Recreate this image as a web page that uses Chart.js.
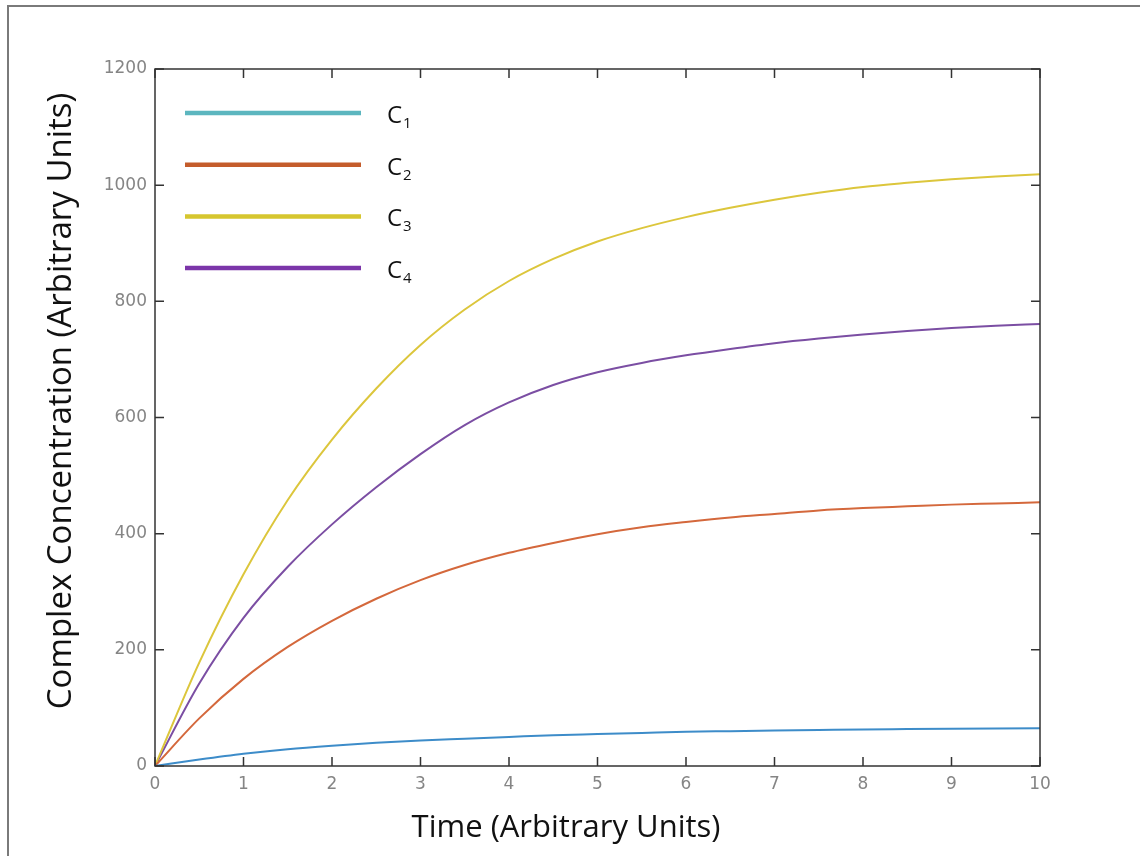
<!DOCTYPE html>
<html>
<head>
<meta charset="utf-8">
<script src="https://cdn.jsdelivr.net/npm/chart.js@4.4.1/dist/chart.umd.min.js"></script>
<style>
  html, body { margin: 0; padding: 0; background: #fff; overflow: hidden; }
  #frame { position: absolute; left: 7px; top: 5px; width: 1160px; height: 880px;
           border: 2px solid #7a7a7a; box-sizing: border-box; }
  #wrap { position: absolute; left: 0; top: 0; width: 1140px; height: 856px; }
</style>
</head>
<body>
<div id="frame"></div>
<div id="wrap"><canvas id="grafica"></canvas></div>
<script>
// time points (arbitrary units)
var tiempos = [0, 0.5, 1, 1.5, 2, 2.5, 3, 3.5, 4, 4.5, 5, 5.5, 6, 6.5, 7, 7.5, 8, 8.5, 9, 9.5, 10];

// complex concentrations
var c1 = [0, 11, 21, 29, 35, 40, 44, 47, 50, 53, 55, 57, 59, 60, 61, 62, 63, 63.5, 64, 64.5, 65];
var c2 = [0, 82, 150, 205, 250, 288, 320, 346, 367, 384, 399, 411, 420, 428, 434, 440, 444, 447, 450, 452, 454];
var c3 = [0, 178, 330, 458, 562, 650, 725, 786, 835, 873, 903, 926, 945, 961, 975, 987, 997, 1004, 1010, 1015, 1019];
var c4 = [0, 142, 255, 343, 416, 480, 537, 587, 626, 656, 678, 694, 707, 718, 728, 736, 743, 749, 754, 758, 761];

var xTicks = [0, 1, 2, 3, 4, 5, 6, 7, 8, 9, 10];
var yTicks = [0, 200, 400, 600, 800, 1000, 1200];

var etiquetas = ['1', '2', '3', '4'];
var coloresLinea = ['#3d8cc9', '#d4683c', '#dcc63c', '#7b4ea3'];
var coloresLeyenda = ['#5cb6bf', '#c45c2b', '#d6c62f', '#7b35a9'];

function puntos(serie) {
  return tiempos.map(function (t, i) { return { x: t, y: serie[i] }; });
}

// box, inward ticks, legend and axis titles
var marco = {
  id: 'marco',
  afterDraw: function (chart) {
    var ctx = chart.ctx;
    var a = chart.chartArea;
    var sx = chart.scales.x, sy = chart.scales.y;
    ctx.save();
    ctx.strokeStyle = '#333';
    ctx.lineWidth = 1.5;
    ctx.strokeRect(a.left, a.top, a.right - a.left, a.bottom - a.top);
    ctx.beginPath();
    xTicks.forEach(function (v) {
      var px = sx.getPixelForValue(v);
      ctx.moveTo(px, a.bottom); ctx.lineTo(px, a.bottom - 9);
      ctx.moveTo(px, a.top); ctx.lineTo(px, a.top + 9);
    });
    yTicks.forEach(function (v) {
      var py = sy.getPixelForValue(v);
      ctx.moveTo(a.left, py); ctx.lineTo(a.left + 9, py);
      ctx.moveTo(a.right, py); ctx.lineTo(a.right - 9, py);
    });
    ctx.stroke();

    // legend
    for (var i = 0; i < etiquetas.length; i++) {
      var y = a.top + 44 + i * 51.7;
      ctx.strokeStyle = coloresLeyenda[i];
      ctx.lineWidth = 4.5;
      ctx.beginPath();
      ctx.moveTo(a.left + 30, y);
      ctx.lineTo(a.left + 206, y);
      ctx.stroke();
      ctx.fillStyle = '#111';
      ctx.textBaseline = 'alphabetic';
      ctx.textAlign = 'left';
      ctx.font = '24px "Open Sans"';
      ctx.fillText('C', a.left + 232, y + 10);
      var w = ctx.measureText('C').width;
      ctx.font = '15px "Open Sans"';
      ctx.fillText(etiquetas[i], a.left + 233 + w, y + 15);
    }

    // axis titles
    ctx.fillStyle = '#111';
    ctx.textAlign = 'center';
    ctx.textBaseline = 'middle';
    ctx.font = '31px "Open Sans"';
    ctx.fillText('Time (Arbitrary Units)', 566, 828);
    ctx.font = '33px "Open Sans"';
    ctx.translate(62, 401);
    ctx.rotate(-Math.PI / 2);
    ctx.fillText('Complex Concentration (Arbitrary Units)', 0, 0);
    ctx.restore();
  }
};

var datos = {
  datasets: etiquetas.map(function (e, i) {
    return {
      label: 'C' + e,
      data: puntos([c1, c2, c3, c4][i]),
      borderColor: coloresLinea[i],
      borderWidth: 2,
      pointRadius: 0,
      fill: false,
      cubicInterpolationMode: 'monotone'
    };
  })
};

var config = {
  type: 'line',
  data: datos,
  options: {
    responsive: false,
    animation: false,
    layout: { padding: { left: 0, right: 100, top: 69, bottom: 0 } },
    plugins: { legend: { display: false }, tooltip: { enabled: false } },
    scales: {
      x: {
        type: 'linear',
        min: 0, max: 10,
        afterFit: function (s) { s.height = 90; },
        afterBuildTicks: function (s) { s.ticks = xTicks.map(function (v) { return { value: v }; }); },
        grid: { display: false },
        border: { display: false },
        ticks: { color: '#858585', padding: 0, maxRotation: 0,
                 callback: function (v) { return String(v); },
                 font: { family: 'DejaVu Sans', size: 17 } }
      },
      y: {
        min: 0, max: 1200,
        afterFit: function (s) { s.width = 155; },
        afterBuildTicks: function (s) { s.ticks = yTicks.map(function (v) { return { value: v }; }); },
        grid: { display: false },
        border: { display: false },
        ticks: { color: '#858585', padding: 0,
                 callback: function (v) { return String(v); },
                 font: { family: 'DejaVu Sans', size: 17 } }
      }
    }
  },
  plugins: [marco]
};

var lienzo = document.getElementById('grafica');
lienzo.width = 1140;
lienzo.height = 856;
lienzo.style.width = '1140px';
lienzo.style.height = '856px';
var miGrafica = new Chart(lienzo, config);
</script>
</body>
</html>
